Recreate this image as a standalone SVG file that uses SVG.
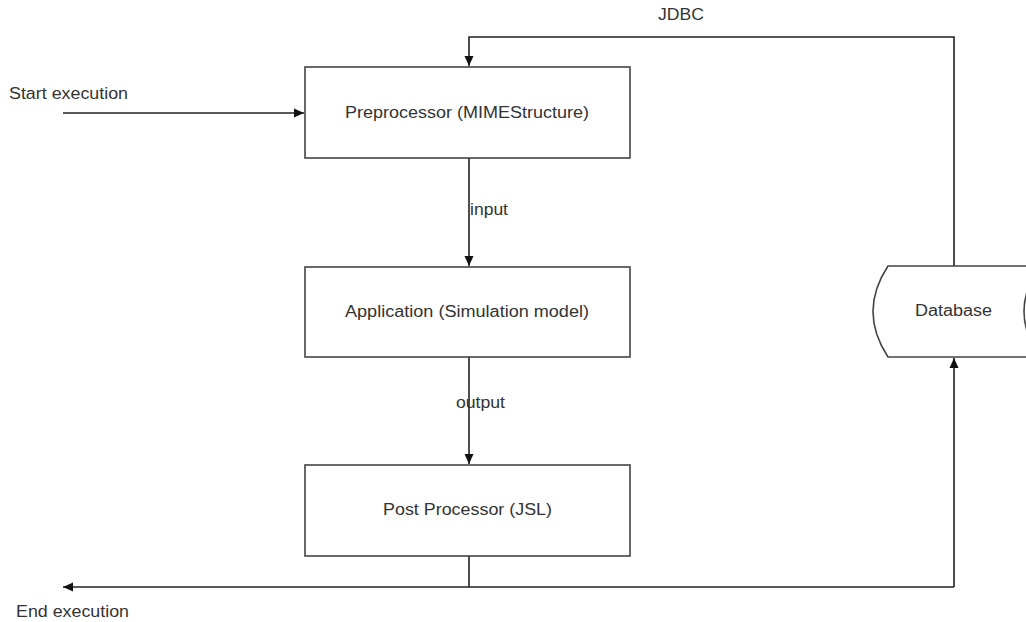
<svg xmlns="http://www.w3.org/2000/svg" width="1026" height="622" viewBox="0 0 1026 622">
  <style>
    .box { fill: #ffffff; stroke: #444444; stroke-width: 1.6; }
    .edge { fill: none; stroke: #222222; stroke-width: 1.6; }
    .lbl { font-family: "Liberation Sans", Arial, sans-serif; font-size: 16px; fill: #333333; }
    .mid { text-anchor: middle; }
  </style>
  <defs>
    <marker id="arrow" viewBox="0 0 10 10" refX="10" refY="5" markerWidth="10" markerHeight="10" markerUnits="userSpaceOnUse" orient="auto">
      <path d="M0,0.5 L10,5 L0,9.5 Z" fill="#111111"/>
    </marker>
  </defs>
  <rect width="1026" height="622" fill="#ffffff"/>

  <!-- connectors -->
  <g id="connectors">
    <path class="edge" d="M63,113 L304,113" marker-end="url(#arrow)"/>
    <path class="edge" d="M954,266 L954,37 L469,37 L469,66" marker-end="url(#arrow)"/>
    <path class="edge" d="M469,158 L469,266" marker-end="url(#arrow)"/>
    <path class="edge" d="M469,357 L469,464" marker-end="url(#arrow)"/>
    <path class="edge" d="M469,556 L469,587"/>
    <path class="edge" d="M954,587 L63,587" marker-end="url(#arrow)"/>
    <path class="edge" d="M954,587 L954,358" marker-end="url(#arrow)"/>
  </g>

  <!-- connector labels -->
  <g id="labels">
    <text class="lbl" x="9" y="99" textLength="119" lengthAdjust="spacingAndGlyphs">Start execution</text>
    <text class="lbl" x="658" y="20" textLength="46" lengthAdjust="spacingAndGlyphs">JDBC</text>
    <text class="lbl" x="470" y="215" textLength="38" lengthAdjust="spacingAndGlyphs">input</text>
    <text class="lbl" x="456" y="408" textLength="49" lengthAdjust="spacingAndGlyphs">output</text>
    <text class="lbl" x="16" y="617" textLength="113" lengthAdjust="spacingAndGlyphs">End execution</text>
  </g>

  <g id="preprocessor">
    <rect class="box" x="305" y="67" width="325" height="91"/>
    <text class="lbl" x="345" y="118" textLength="244" lengthAdjust="spacingAndGlyphs">Preprocessor (MIMEStructure)</text>
  </g>

  <g id="application">
    <rect class="box" x="305" y="267" width="325" height="90"/>
    <text class="lbl" x="345" y="317" textLength="244" lengthAdjust="spacingAndGlyphs">Application (Simulation model)</text>
  </g>

  <g id="postprocessor">
    <rect class="box" x="305" y="465" width="325" height="91"/>
    <text class="lbl" x="383" y="515" textLength="169" lengthAdjust="spacingAndGlyphs">Post Processor (JSL)</text>
  </g>

  <g id="database">
    <path class="box" d="M888,266 L1040,266 Q1008,311.5 1040,357 L888,357 Q858,311.5 888,266 Z"/>
    <text class="lbl" x="915" y="316" textLength="77" lengthAdjust="spacingAndGlyphs">Database</text>
  </g>
</svg>
